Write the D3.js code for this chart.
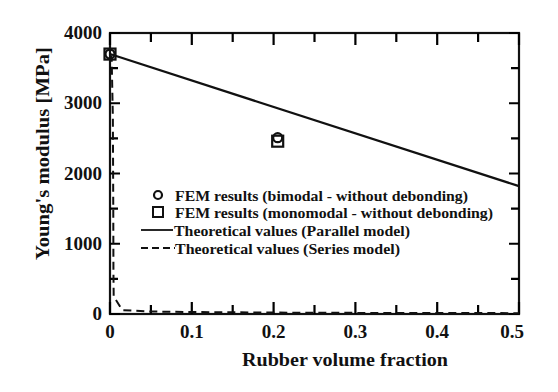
<!DOCTYPE html>
<html>
<head>
<meta charset="utf-8">
<script src="https://cdn.jsdelivr.net/npm/d3@7"></script>
<style>
  body { margin: 0; background: #fff; }
  svg { display: block; }
  text { font-family: "Liberation Serif", "Times New Roman", serif; fill: #111; }
</style>
</head>
<body>
<svg id="chart" width="558" height="392"></svg>
<script>
// ---- data ----
const xTicks = [0, 0.1, 0.2, 0.3, 0.4, 0.5];
const xTickLabels = ["0", "0.1", "0.2", "0.3", "0.4", "0.5"];
const xMinorTicks = [0.05, 0.15, 0.25, 0.35, 0.45];
const yTicks = [0, 1000, 2000, 3000, 4000];
const yTickLabels = ["0", "1000", "2000", "3000", "4000"];
const yMinorTicks = [500, 1500, 2500, 3500];

const bimodalFraction = [0, 0.205];
const bimodalModulus = [3700, 2510];
const monomodalFraction = [0, 0.205];
const monomodalModulus = [3700, 2460];

const parallelFraction = [0, 0.5];
const parallelModulus = [3700, 1820];

const seriesFraction = [0, 0.002, 0.0035, 0.004, 0.0042, 0.0045, 0.015, 0.05, 0.1, 0.2, 0.3, 0.5];
const seriesModulus  = [3700, 3650, 2800, 1500, 600, 250, 55, 35, 28, 20, 16, 12];

const legendLabels = [
  "FEM results (bimodal - without debonding)",
  "FEM results (monomodal - without debonding)",
  "Theoretical values (Parallel model)",
  "Theoretical values (Series model)"
];

// ---- layout ----
const svg = d3.select("#chart");
const pLeft = 110, pRight = 519, pTop = 33, pBottom = 314;
const x = d3.scaleLinear().domain([0, 0.5]).range([pLeft, pRight]);
const y = d3.scaleLinear().domain([0, 4000]).range([pBottom, pTop]);

const ink = "#111";

// frame
svg.append("rect")
  .attr("x", pLeft).attr("y", pTop)
  .attr("width", pRight - pLeft).attr("height", pBottom - pTop)
  .attr("fill", "none").attr("stroke", ink).attr("stroke-width", 2.2);

// inward ticks on all four sides (drawn as a single path)
let tickPath = "";
xTicks.forEach(v => { tickPath += `M${x(v)},${pBottom}V${pBottom - 12}M${x(v)},${pTop}V${pTop + 12}`; });
xMinorTicks.forEach(v => { tickPath += `M${x(v)},${pBottom}V${pBottom - 9}M${x(v)},${pTop}V${pTop + 9}`; });
yTicks.forEach(v => { tickPath += `M${pLeft},${y(v)}H${pLeft + 10}M${pRight},${y(v)}H${pRight - 10}`; });
yMinorTicks.forEach(v => { tickPath += `M${pLeft},${y(v)}H${pLeft + 8}M${pRight},${y(v)}H${pRight - 8}`; });
svg.append("path").attr("d", tickPath)
  .attr("fill", "none").attr("stroke", "#000").attr("stroke-width", 2.2);

// tick labels
svg.append("g").selectAll("text").data(xTicks).join("text")
  .attr("x", (d, i) => x(d) - (i === xTicks.length - 1 ? 7 : 0)).attr("y", 338)
  .attr("text-anchor", "middle")
  .attr("font-size", 19).attr("font-weight", "bold")
  .text((d, i) => xTickLabels[i]);

svg.append("g").selectAll("text").data(yTicks).join("text")
  .attr("x", 102).attr("y", d => y(d) + 6)
  .attr("text-anchor", "end")
  .attr("font-size", 19).attr("font-weight", "bold")
  .text((d, i) => yTickLabels[i]);

// axis titles
svg.append("text")
  .attr("x", 242).attr("y", 366)
  .attr("font-size", 19).attr("font-weight", "bold")
  .attr("textLength", 206).attr("lengthAdjust", "spacingAndGlyphs")
  .text("Rubber volume fraction");

svg.append("text")
  .attr("transform", "translate(49,260) rotate(-90)")
  .attr("font-size", 19).attr("font-weight", "bold")
  .attr("textLength", 213).attr("lengthAdjust", "spacingAndGlyphs")
  .text("Young's modulus  [MPa]");

// lines
const line = d3.line().x(d => x(d[0])).y(d => y(d[1]));
svg.append("path")
  .datum(parallelFraction.map((f, i) => [f, parallelModulus[i]]))
  .attr("d", line).attr("fill", "none")
  .attr("stroke", ink).attr("stroke-width", 2.2);

svg.append("path")
  .datum(seriesFraction.map((f, i) => [f, seriesModulus[i]]))
  .attr("d", line).attr("fill", "none")
  .attr("stroke", ink).attr("stroke-width", 2)
  .attr("stroke-dasharray", "8,5");

// markers
svg.append("g").selectAll("circle").data(bimodalFraction).join("circle")
  .attr("cx", d => x(d)).attr("cy", (d, i) => y(bimodalModulus[i]))
  .attr("r", 4.5)
  .attr("fill", "none").attr("stroke", ink).attr("stroke-width", 2.2);

svg.append("g").selectAll("rect").data(monomodalFraction).join("rect")
  .attr("x", d => x(d) - 5.5).attr("y", (d, i) => y(monomodalModulus[i]) - 5.5)
  .attr("width", 11).attr("height", 11)
  .attr("fill", "none").attr("stroke", ink).attr("stroke-width", 2.2);

// legend
const legY = [196, 213, 231, 249];
const lg = svg.append("g");
lg.append("circle").attr("cx", 158).attr("cy", legY[0] - 1).attr("r", 4)
  .attr("fill", "none").attr("stroke", ink).attr("stroke-width", 2.2);
lg.append("rect").attr("x", 153).attr("y", legY[1] - 6).attr("width", 10).attr("height", 10)
  .attr("fill", "none").attr("stroke", ink).attr("stroke-width", 2);
lg.append("line").attr("x1", 141).attr("x2", 173).attr("y1", legY[2] - 1).attr("y2", legY[2] - 1)
  .attr("stroke", ink).attr("stroke-width", 1.8);
lg.append("line").attr("x1", 141).attr("x2", 175).attr("y1", legY[3] - 1).attr("y2", legY[3] - 1)
  .attr("stroke", ink).attr("stroke-width", 2).attr("stroke-dasharray", "7,4");

const legX = [175, 175, 174, 175];
const legW = [293, 318, 236, 225];
lg.selectAll("text").data(legendLabels).join("text")
  .attr("x", (d, i) => legX[i]).attr("y", (d, i) => legY[i] + 5)
  .attr("font-size", 15).attr("font-weight", "bold")
  .attr("textLength", (d, i) => legW[i]).attr("lengthAdjust", "spacingAndGlyphs")
  .text(d => d);
</script>
</body>
</html>
